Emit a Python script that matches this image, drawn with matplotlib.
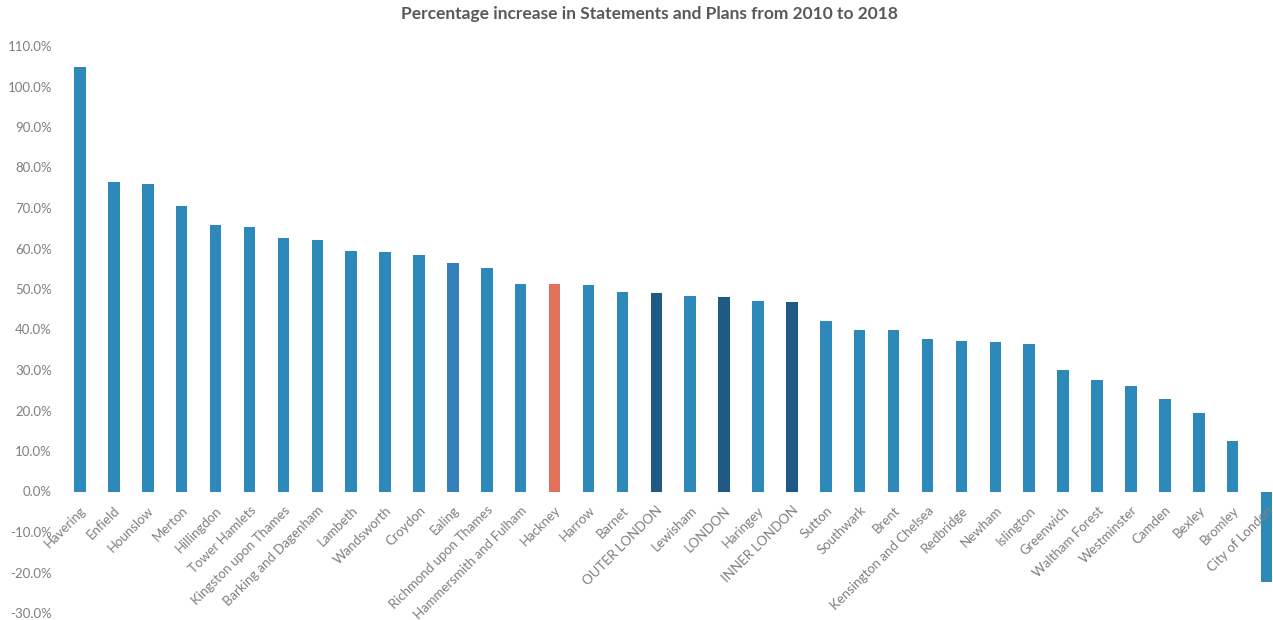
import matplotlib.pyplot as plt
from matplotlib.ticker import FuncFormatter

plt.rcParams['font.family'] = ['Lato', 'DejaVu Sans']

areas = ['Havering', 'Enfield', 'Hounslow', 'Merton', 'Hillingdon', 'Tower Hamlets',
         'Kingston upon Thames', 'Barking and Dagenham', 'Lambeth', 'Wandsworth',
         'Croydon', 'Ealing', 'Richmond upon Thames', 'Hammersmith and Fulham',
         'Hackney', 'Harrow', 'Barnet', 'OUTER LONDON', 'Lewisham', 'LONDON',
         'Haringey', 'INNER LONDON', 'Sutton', 'Southwark', 'Brent',
         'Kensington and Chelsea', 'Redbridge', 'Newham', 'Islington', 'Greenwich',
         'Waltham Forest', 'Westminster', 'Camden', 'Bexley', 'Bromley', 'City of London']
pct_increase = [104.9, 76.5, 75.9, 70.4, 65.7, 65.2, 62.7, 62.2, 59.3, 59.2,
                58.4, 56.3, 55.3, 51.3, 51.2, 50.9, 49.2, 49.0, 48.3, 48.1,
                47.1, 46.9, 42.2, 39.8, 39.9, 37.7, 37.2, 37.0, 36.3, 30.0,
                27.6, 26.0, 22.9, 19.5, 12.5, -22.4]
totals = ['OUTER LONDON', 'LONDON', 'INNER LONDON']

colours = []
for a in areas:
    if a == 'Hackney':
        colours.append('#e0715a')
    elif a in totals:
        colours.append('#1f5a85')
    elif a == 'Ealing':
        colours.append('#3580b8')
    else:
        colours.append('#2e89bb')

fig = plt.figure(figsize=(12.73, 6.2), dpi=100)
ax = fig.add_axes([63 / 1273, 7 / 620, 1 - 63 / 1273, 567 / 620])

x = list(range(len(areas)))
ax.bar(x, pct_increase, width=0.34, color=colours)

ax.set_ylim(-30, 110)
ax.set_xlim(-0.5, 35.19)
ax.set_yticks(range(-30, 111, 10))
ax.yaxis.set_major_formatter(FuncFormatter(lambda v, p: f'{v:.1f}%'))

# category labels sit on the zero line, like an Excel axis crossing at 0
ax.spines['bottom'].set_position(('data', 0))
for s in ['top', 'right', 'left', 'bottom']:
    ax.spines[s].set_visible(False)
ax.set_xticks(x)
ax.set_xticklabels(areas, rotation=45, ha='right', rotation_mode='anchor')
ax.tick_params(axis='both', length=0, colors='#7f7f7f', labelsize=9.5)
ax.tick_params(axis='x', pad=9)
ax.tick_params(axis='y', pad=8)

fig.text(0.51, 0.977, 'Percentage increase in Statements and Plans from 2010 to 2018',
         ha='center', va='center', fontsize=12.5, fontweight='bold', color='#595959')

fig.savefig('out.png', dpi=100, facecolor='white')
